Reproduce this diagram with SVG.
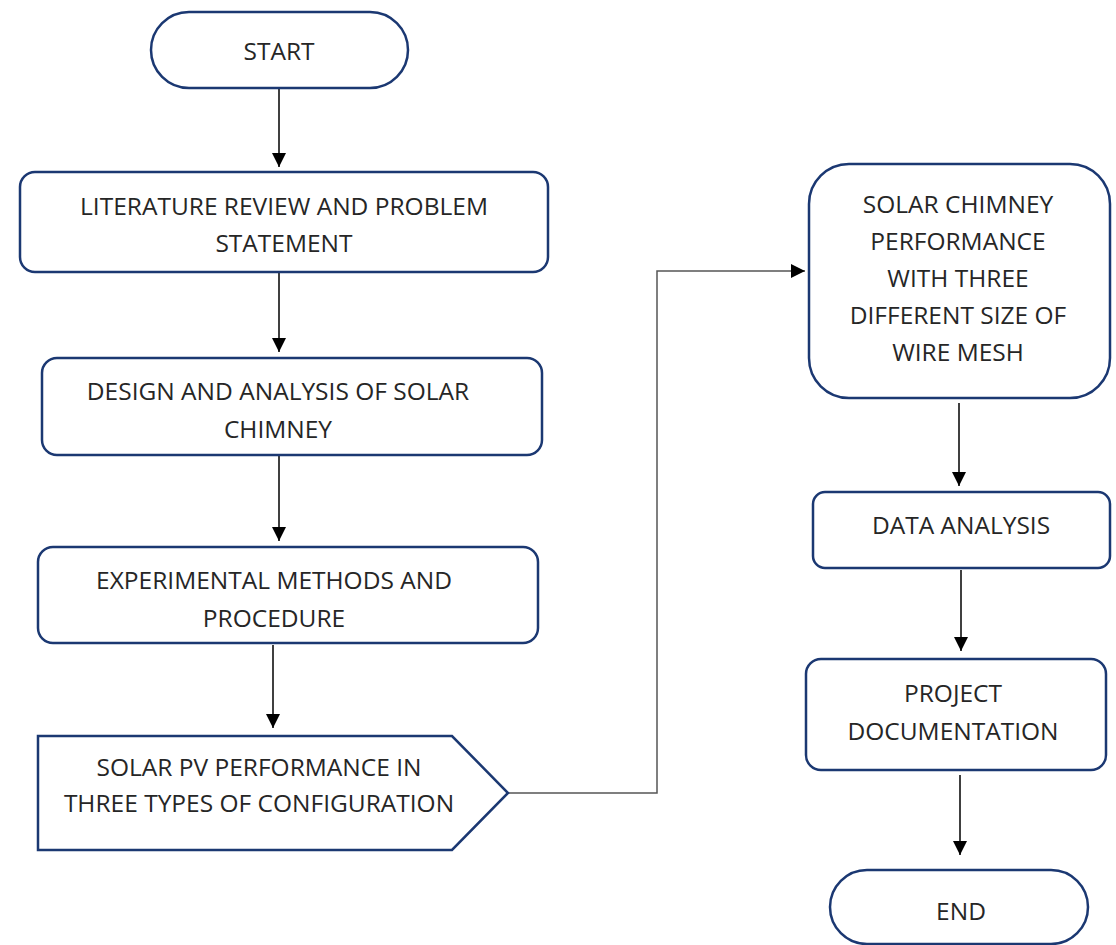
<svg xmlns="http://www.w3.org/2000/svg" width="1116" height="945" viewBox="0 0 1116 945">
<style>
.n{fill:#fff;stroke:#1b3872;stroke-width:2.5}
.t{font-family:"Open Sans","Liberation Sans",Arial,sans-serif;font-size:24.5px;fill:#262626;text-anchor:middle}
.c{fill:none;stroke:#000;stroke-width:1.5}
.g{fill:none;stroke:#555;stroke-width:1.5}
</style>
<defs>
<marker id="b" viewBox="0 0 10 10" refX="10" refY="5" markerWidth="14" markerHeight="14" markerUnits="userSpaceOnUse" orient="auto">
<path d="M0,0 L10,5 L0,10 z" fill="#000"/>
</marker>
</defs>
<g id="connectors">
<line class="c" x1="279" y1="88" x2="279" y2="167" marker-end="url(#b)"/>
<line class="c" x1="279" y1="273" x2="279" y2="352" marker-end="url(#b)"/>
<line class="c" x1="279" y1="456" x2="279" y2="541" marker-end="url(#b)"/>
<line class="c" x1="273" y1="645" x2="273" y2="728" marker-end="url(#b)"/>
<polyline class="g" points="508,793 657,793 657,271 805,271" marker-end="url(#b)"/>
<line class="c" x1="959" y1="403" x2="959" y2="486" marker-end="url(#b)"/>
<line class="c" x1="961" y1="570" x2="961" y2="651" marker-end="url(#b)"/>
<line class="c" x1="960" y1="775" x2="960" y2="855" marker-end="url(#b)"/>
</g>
<g id="start">
<rect class="n" x="151" y="12" width="257" height="76" rx="38"/>
<text class="t" x="279" y="60">START</text>
</g>
<g id="literature">
<rect class="n" x="20" y="172" width="528" height="100" rx="15"/>
<text class="t" x="284" y="215">LITERATURE REVIEW AND PROBLEM</text>
<text class="t" x="284" y="252">STATEMENT</text>
</g>
<g id="design">
<rect class="n" x="42" y="358" width="500" height="97" rx="15"/>
<text class="t" x="278" y="400">DESIGN AND ANALYSIS OF SOLAR</text>
<text class="t" x="278" y="438">CHIMNEY</text>
</g>
<g id="experimental">
<rect class="n" x="38" y="547" width="500" height="96" rx="15"/>
<text class="t" x="274" y="589">EXPERIMENTAL METHODS AND</text>
<text class="t" x="274" y="627">PROCEDURE</text>
</g>
<g id="solarpv">
<polygon class="n" points="38,736 452,736 508,793 452,850 38,850"/>
<text class="t" x="259" y="776">SOLAR PV PERFORMANCE IN</text>
<text class="t" x="259" y="812">THREE TYPES OF CONFIGURATION</text>
</g>
<g id="chimney">
<rect class="n" x="809" y="164" width="301" height="234" rx="40"/>
<text class="t" x="958" y="213">SOLAR CHIMNEY</text>
<text class="t" x="958" y="250">PERFORMANCE</text>
<text class="t" x="958" y="287">WITH THREE</text>
<text class="t" x="958" y="324">DIFFERENT SIZE OF</text>
<text class="t" x="958" y="361">WIRE MESH</text>
</g>
<g id="data">
<rect class="n" x="813" y="492" width="297" height="76" rx="12"/>
<text class="t" x="961" y="534">DATA ANALYSIS</text>
</g>
<g id="documentation">
<rect class="n" x="806" y="659" width="300" height="111" rx="15"/>
<text class="t" x="953" y="702">PROJECT</text>
<text class="t" x="953" y="740">DOCUMENTATION</text>
</g>
<g id="end">
<rect class="n" x="830" y="870" width="258" height="74" rx="37"/>
<text class="t" x="961" y="920">END</text>
</g>
</svg>
